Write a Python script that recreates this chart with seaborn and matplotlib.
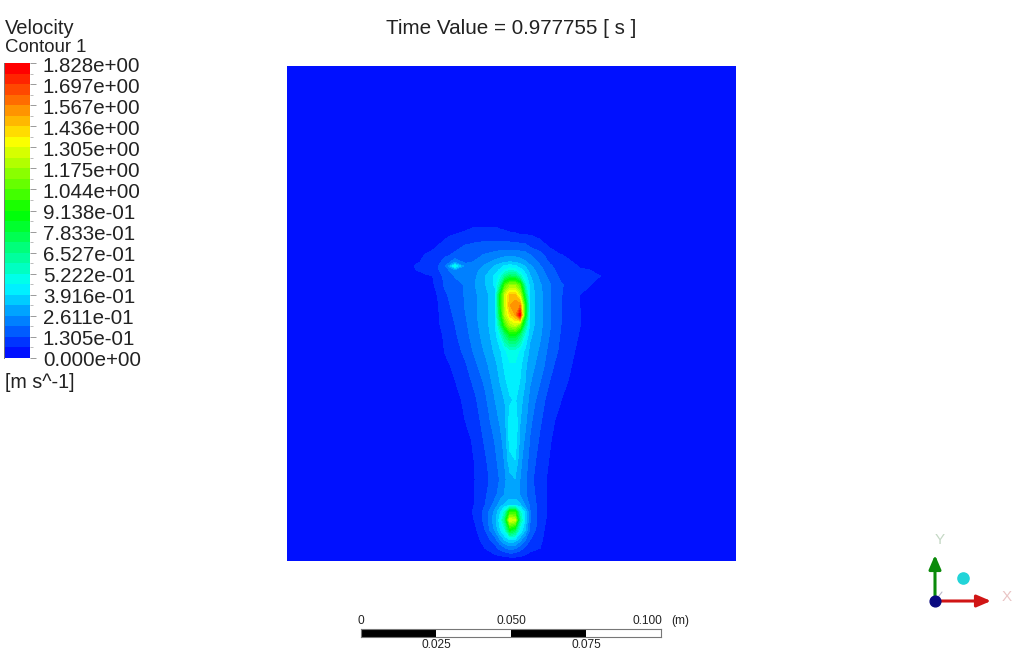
import numpy as np
import matplotlib
matplotlib.use("Agg")
import matplotlib.pyplot as plt
from matplotlib.colors import ListedColormap
import seaborn as sns

# ==========================================================
# Data
# ==========================================================

legend_labels = ["1.828e+00", "1.697e+00", "1.567e+00", "1.436e+00", "1.305e+00",
                 "1.175e+00", "1.044e+00", "9.138e-01", "7.833e-01", "6.527e-01",
                 "5.222e-01", "3.916e-01", "2.611e-01", "1.305e-01", "0.000e+00"]
max_velocity = 1.828
n_bands = 28
anchor_colors = ["#0000ff", "#00ffff", "#00ff00", "#ffff00", "#ff0000"]

scale_ticks = [0, 0.025, 0.050, 0.075, 0.100]
scale_labels = ["0", "0.025", "0.050", "0.075", "0.100"]

# sample positions of the velocity table, in picture pixels
field_x = [405, 415, 425, 435, 445, 455, 465, 475, 485, 495, 500, 505, 510,
           515, 520, 525, 530, 540, 550, 560, 570, 580, 590, 600, 610]
field_y = [220, 228, 236, 245, 255, 262, 266, 270, 276, 285, 295, 305, 315, 325,
           335, 350, 365, 380, 400, 420, 440, 460, 480, 495, 505, 512, 520, 530,
           540, 548, 556, 562]

# velocity in m/s, one row per field_y
velocity = [
    [0, 0, 0, 0, 0, 0, 0, 0, 0, 0, 0, 0, 0, 0, 0, 0, 0, 0, 0, 0, 0, 0, 0, 0, 0],
    [0, 0, 0, 0, 0, 0, .05, .07, .07, .07, .06, .05, .04, .03, 0, 0, 0, 0, 0, 0, 0, 0, 0, 0, 0],
    [0, 0, 0, 0, .05, .08, .09, .10, .10, .10, .10, .10, .09, .09, .08, .08, .07, .05, 0, 0, 0, 0, 0, 0, 0],
    [0, 0, 0, .05, .09, .11, .13, .14, .15, .15, .15, .15, .15, .15, .14, .14, .11, .09, .05, 0, 0, 0, 0, 0, 0],
    [0, 0, .07, .09, .12, .14, .16, .18, .20, .22, .23, .24, .24, .24, .23, .22, .20, .15, .10, .07, .05, 0, 0, 0, 0],
    [0, .05, .08, .10, .15, .24, .18, .20, .24, .28, .30, .32, .33, .32, .30, .27, .24, .18, .12, .09, .07, .05, 0, 0, 0],
    [0, .07, .09, .11, .17, .46, .22, .22, .27, .33, .36, .40, .42, .40, .36, .32, .27, .20, .14, .10, .08, .06, 0, 0, 0],
    [0, .06, .09, .11, .16, .25, .20, .24, .29, .36, .40, .46, .50, .48, .42, .36, .30, .22, .15, .11, .09, .07, .065, 0, 0],
    [0, .04, .05, .07, .15, .20, .20, .25, .32, .40, .48, .62, .72, .70, .55, .42, .33, .24, .17, .12, .10, .08, .08, .066, 0],
    [0, 0, 0, .07, .14, .17, .20, .26, .32, .40, .60, 1.00, 1.15, 1.15, 1.00, .55, .36, .27, .20, .14, .11, .09, .066, .02, 0],
    [0, 0, 0, .05, .12, .16, .20, .25, .30, .37, .85, 1.25, 1.45, 1.45, 1.25, .75, .36, .28, .20, .14, .09, .065, .02, 0, 0],
    [0, 0, 0, .04, .11, .15, .20, .25, .30, .37, .85, 1.25, 1.50, 1.55, 1.55, .95, .37, .28, .20, .14, .09, .065, 0, 0, 0],
    [0, 0, 0, .04, .10, .14, .19, .25, .30, .37, .80, 1.20, 1.40, 1.50, 1.80, .90, .37, .28, .20, .14, .09, .066, 0, 0, 0],
    [0, 0, 0, .04, .09, .13, .18, .24, .30, .37, .65, 1.00, 1.20, 1.25, 1.10, .65, .36, .28, .20, .135, .09, .066, 0, 0, 0],
    [0, 0, 0, .02, .08, .12, .17, .23, .29, .36, .48, .68, .85, .85, .70, .48, .34, .27, .19, .13, .09, .06, 0, 0, 0],
    [0, 0, 0, 0, .07, .10, .15, .21, .27, .34, .38, .45, .50, .50, .45, .38, .31, .25, .17, .12, .08, .05, 0, 0, 0],
    [0, 0, 0, 0, .05, .08, .12, .18, .24, .31, .35, .41, .45, .45, .41, .34, .29, .23, .15, .10, .07, .04, 0, 0, 0],
    [0, 0, 0, 0, .02, .065, .10, .15, .21, .29, .33, .38, .43, .44, .39, .33, .27, .20, .13, .09, .06, 0, 0, 0, 0],
    [0, 0, 0, 0, 0, .04, .08, .12, .18, .26, .30, .33, .38, .40, .35, .30, .24, .16, .10, .07, .03, 0, 0, 0, 0],
    [0, 0, 0, 0, 0, .02, .065, .10, .16, .23, .27, .31, .42, .44, .33, .28, .21, .14, .08, .05, 0, 0, 0, 0, 0],
    [0, 0, 0, 0, 0, 0, .04, .08, .14, .20, .24, .29, .42, .44, .31, .25, .19, .12, .07, .03, 0, 0, 0, 0, 0],
    [0, 0, 0, 0, 0, 0, .02, .07, .12, .18, .22, .27, .37, .39, .28, .23, .17, .10, .06, 0, 0, 0, 0, 0, 0],
    [0, 0, 0, 0, 0, 0, .02, .065, .11, .16, .20, .25, .30, .32, .26, .21, .15, .09, .05, 0, 0, 0, 0, 0, 0],
    [0, 0, 0, 0, 0, 0, .02, .07, .12, .18, .22, .27, .29, .29, .26, .21, .16, .10, .05, 0, 0, 0, 0, 0, 0],
    [0, 0, 0, 0, 0, 0, .02, .07, .13, .22, .30, .34, .38, .38, .34, .26, .18, .10, .05, 0, 0, 0, 0, 0, 0],
    [0, 0, 0, 0, 0, 0, .02, .08, .15, .28, .38, .55, .95, .95, .55, .36, .20, .10, .05, 0, 0, 0, 0, 0, 0],
    [0, 0, 0, 0, 0, 0, .02, .07, .15, .30, .42, .70, 1.30, 1.25, .62, .38, .20, .10, .04, 0, 0, 0, 0, 0, 0],
    [0, 0, 0, 0, 0, 0, 0, .05, .13, .27, .38, .50, .85, .75, .45, .33, .18, .09, .03, 0, 0, 0, 0, 0, 0],
    [0, 0, 0, 0, 0, 0, 0, .03, .10, .16, .25, .33, .38, .36, .28, .20, .13, .08, .02, 0, 0, 0, 0, 0, 0],
    [0, 0, 0, 0, 0, 0, 0, .01, .066, .11, .15, .19, .22, .21, .16, .12, .10, .066, 0, 0, 0, 0, 0, 0, 0],
    [0, 0, 0, 0, 0, 0, 0, 0, .03, .055, .06, .07, .08, .08, .07, .055, .03, 0, 0, 0, 0, 0, 0, 0, 0],
    [0, 0, 0, 0, 0, 0, 0, 0, 0, 0, 0, 0, 0, 0, 0, 0, 0, 0, 0, 0, 0, 0, 0, 0, 0],
]

# ==========================================================
# Theme and colours
# ==========================================================

sns.set_theme(style="white")
plt.rcParams["font.family"] = ["Liberation Sans", "DejaVu Sans"]

W, H = 1022, 664
fig = plt.figure(figsize=(W / 100, H / 100), dpi=100, facecolor="white")


def px_axes(left, top, right, bottom):
    return fig.add_axes([left / W, 1 - bottom / H, (right - left) / W, (bottom - top) / H])


# every second colour of a double length blend = the middle of each band
palette = sns.blend_palette(anchor_colors, n_colors=2 * n_bands)[1::2]
levels = np.linspace(0, max_velocity, n_bands + 1)
text_color = "#222222"

# ==========================================================
# Contour field
# ==========================================================

ax = px_axes(287, 66, 736, 561)
ax.set_facecolor(palette[0])
ax.contourf(field_x, field_y, np.array(velocity), levels=levels, colors=palette, extend="neither")
ax.set_xlim(287, 736)
ax.set_ylim(561, 66)
ax.set_xticks([])
ax.set_yticks([])
sns.despine(ax=ax, left=True, bottom=True)

# ==========================================================
# Colour legend
# ==========================================================

cax = px_axes(4, 63, 30, 358)
bands = (levels[:-1] + levels[1:])[::-1].reshape(-1, 1) / 2
sns.heatmap(bands, ax=cax, cmap=ListedColormap(palette), vmin=0, vmax=max_velocity,
            cbar=False, xticklabels=False, yticklabels=False)
cax.yaxis.tick_right()
cax.set_yticks(np.arange(0, n_bands + 1, 2), labels=[])
cax.set_yticks(np.arange(1, n_bands, 2), minor=True)
cax.tick_params(axis="y", which="major", right=True, left=False, length=4, width=0.7, color="#999999")
cax.tick_params(axis="y", which="minor", right=True, left=False, length=2, width=0.7, color="#bbbbbb")
cax.spines["left"].set_visible(True)
cax.spines["left"].set_color("#777777")
cax.spines["left"].set_linewidth(0.7)

# ==========================================================
# Text, scale bar, axis triad (drawn in picture pixels)
# ==========================================================

over = fig.add_axes([0, 0, 1, 1], facecolor="none")
over.set_xlim(0, W)
over.set_ylim(H, 0)
over.axis("off")

over.text(511.5, 28, "Time Value = 0.977755 [ s ]", fontsize=14.9, ha="center", va="center", color=text_color)
over.text(5, 29, "Velocity", fontsize=14.5, ha="left", va="center", color=text_color)
over.text(5, 47, "Contour 1", fontsize=13.4, ha="left", va="center", color=text_color)
for i, label in enumerate(legend_labels):
    over.text(43, 66 + i * 21.07, label, fontsize=14.8, ha="left", va="center", color=text_color)
over.text(5, 382, "[m s^-1]", fontsize=14.2, ha="left", va="center", color=text_color)

sax = px_axes(361, 629, 661, 637)
for start, end, shade in zip(scale_ticks[:-1], scale_ticks[1:], ["black", "white", "black", "white"]):
    sax.barh(0, end - start, left=start, height=1, color=shade, edgecolor="none")
sax.set_xlim(0, 0.1)
sax.set_ylim(-0.5, 0.5)
sax.set_xticks([])
sax.set_yticks([])
for side in sax.spines.values():
    side.set_color("#777777")
    side.set_linewidth(0.8)

for i, (tick, label) in enumerate(zip(scale_ticks, scale_labels)):
    x_px = 361 + tick / 0.1 * 300
    y_px = 621 if i % 2 == 0 else 645
    if i == 4:
        x_px = 647
    over.text(x_px, y_px, label, fontsize=8.6, ha="center", va="center", color=text_color)
over.text(680, 621, "(m)", fontsize=8.6, ha="center", va="center", color=text_color)

over.plot([935, 942], [601, 592], color="#b8b8c8", lw=0.8, zorder=1)
over.annotate("", xy=(935, 555), xytext=(935, 601),
              arrowprops=dict(arrowstyle="-|>,head_width=0.3,head_length=0.7", color="#0a8a0a", lw=2.2, shrinkA=0, shrinkB=0))
over.annotate("", xy=(991, 601), xytext=(935, 601),
              arrowprops=dict(arrowstyle="-|>,head_width=0.3,head_length=0.7", color="#d01515", lw=2.2, shrinkA=0, shrinkB=0))
over.scatter([935], [601], s=60, color="#0a0a80", zorder=5)
over.scatter([963], [578], s=65, color="#22d4d8", zorder=5)
over.text(940, 540, "Y", fontsize=11, ha="center", va="center", color="#c5d8c5")
over.text(1007, 597, "X", fontsize=11, ha="center", va="center", color="#eac5c5")

fig.savefig("out.png", dpi=100)
